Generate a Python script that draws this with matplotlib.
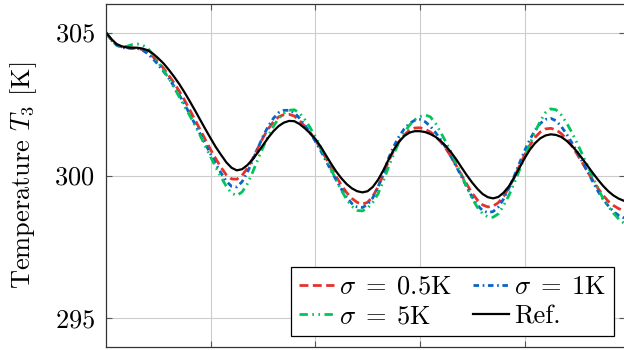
import matplotlib
matplotlib.use("Agg")
import matplotlib.pyplot as plt

plt.rcParams['font.family'] = 'serif'
plt.rcParams['font.serif'] = ['cmr10', 'DejaVu Serif']
plt.rcParams['mathtext.fontset'] = 'cm'
plt.rcParams['axes.formatter.use_mathtext'] = True

x = [0.00, 0.05, 0.10, 0.15, 0.20, 0.25, 0.30, 0.35, 0.40, 0.45,
     0.50, 0.55, 0.60, 0.65, 0.70, 0.75, 0.80, 0.85, 0.90, 0.95,
     1.00, 1.05, 1.10, 1.15, 1.20, 1.25, 1.30, 1.35, 1.40, 1.45,
     1.50, 1.55, 1.60, 1.65, 1.70, 1.75, 1.80, 1.85, 1.90, 1.95,
     2.00, 2.05, 2.10, 2.15, 2.20, 2.25, 2.30, 2.35, 2.40, 2.45,
     2.50, 2.55, 2.60, 2.65, 2.70, 2.75, 2.80, 2.85, 2.90, 2.95,
     3.00, 3.05, 3.10, 3.15, 3.20, 3.25, 3.30, 3.35, 3.40, 3.45,
     3.50, 3.55, 3.60, 3.65, 3.70, 3.75, 3.80, 3.85, 3.90, 3.95,
     4.00, 4.05, 4.10, 4.15, 4.20, 4.25, 4.30, 4.35, 4.40, 4.45,
     4.50, 4.55, 4.60, 4.65, 4.70, 4.75, 4.80, 4.85, 4.90, 4.96]

ref = [305.00, 304.78, 304.60, 304.52, 304.48, 304.47, 304.47, 304.44, 304.38, 304.26,
       304.10, 303.92, 303.70, 303.46, 303.20, 302.91, 302.60, 302.28, 301.95, 301.62,
       301.30, 300.99, 300.72, 300.46, 300.27, 300.18, 300.22, 300.36, 300.56, 300.80,
       301.06, 301.32, 301.55, 301.73, 301.85, 301.91, 301.90, 301.80, 301.65, 301.48,
       301.28, 301.02, 300.72, 300.42, 300.14, 299.90, 299.70, 299.55, 299.45, 299.41,
       299.45, 299.60, 299.85, 300.18, 300.55, 300.90, 301.18, 301.38, 301.50, 301.55,
       301.55, 301.52, 301.45, 301.35, 301.20, 301.02, 300.80, 300.55, 300.27, 300.00,
       299.75, 299.53, 299.35, 299.24, 299.20, 299.25, 299.40, 299.62, 299.92, 300.26,
       300.60, 300.90, 301.13, 301.30, 301.40, 301.44, 301.42, 301.35, 301.22, 301.05,
       300.84, 300.60, 300.35, 300.10, 299.86, 299.64, 299.45, 299.30, 299.19, 299.10]

s05 = [305.00, 304.76, 304.58, 304.50, 304.47, 304.46, 304.45, 304.40, 304.30, 304.15,
       303.96, 303.75, 303.50, 303.24, 302.95, 302.64, 302.30, 301.95, 301.60, 301.25,
       300.90, 300.58, 300.28, 300.02, 299.88, 299.87, 300.00, 300.25, 300.58, 300.95,
       301.32, 301.63, 301.88, 302.05, 302.13, 302.14, 302.08, 301.92, 301.72, 301.50,
       301.25, 300.95, 300.62, 300.28, 299.96, 299.66, 299.40, 299.20, 299.06, 299.00,
       299.06, 299.27, 299.60, 300.03, 300.50, 300.88, 301.18, 301.42, 301.58, 301.66,
       301.67, 301.62, 301.52, 301.37, 301.17, 300.93, 300.65, 300.33, 300.00, 299.68,
       299.38, 299.14, 298.97, 298.90, 298.93, 299.05, 299.27, 299.57, 299.92, 300.32,
       300.72, 301.05, 301.33, 301.52, 301.63, 301.65, 301.60, 301.47, 301.28, 301.04,
       300.76, 300.46, 300.15, 299.85, 299.56, 299.31, 299.10, 298.95, 298.84, 298.76]

s1 = [305.00, 304.74, 304.56, 304.48, 304.45, 304.45, 304.45, 304.38, 304.26, 304.08,
      303.87, 303.64, 303.40, 303.12, 302.82, 302.50, 302.15, 301.80, 301.45, 301.10,
      300.75, 300.40, 300.08, 299.80, 299.62, 299.60, 299.78, 300.10, 300.52, 300.95,
      301.36, 301.72, 302.00, 302.20, 302.28, 302.28, 302.20, 302.00, 301.76, 301.50,
      301.20, 300.88, 300.53, 300.18, 299.84, 299.52, 299.24, 299.02, 298.90, 298.88,
      298.98, 299.22, 299.60, 300.08, 300.60, 301.02, 301.36, 301.63, 301.82, 301.93,
      301.96, 301.88, 301.72, 301.50, 301.25, 300.96, 300.64, 300.30, 299.94, 299.58,
      299.24, 298.96, 298.77, 298.70, 298.74, 298.90, 299.18, 299.55, 299.97, 300.42,
      300.86, 301.25, 301.58, 301.82, 301.96, 302.00, 301.92, 301.72, 301.46, 301.16,
      300.84, 300.50, 300.15, 299.80, 299.46, 299.17, 298.94, 298.74, 298.60, 298.50]

s5 = [305.00, 304.74, 304.56, 304.50, 304.52, 304.58, 304.60, 304.56, 304.45, 304.22,
      303.95, 303.68, 303.40, 303.08, 302.75, 302.42, 302.10, 301.76, 301.40, 301.02,
      300.65, 300.28, 299.94, 299.62, 299.38, 299.30, 299.42, 299.70, 300.10, 300.55,
      300.98, 301.38, 301.72, 302.00, 302.18, 302.28, 302.30, 302.18, 301.96, 301.68,
      301.36, 301.00, 300.62, 300.22, 299.84, 299.48, 299.16, 298.92, 298.78, 298.76,
      298.86, 299.06, 299.36, 299.80, 300.30, 300.76, 301.16, 301.50, 301.76, 301.95,
      302.06, 302.12, 302.05, 301.82, 301.50, 301.16, 300.80, 300.40, 300.00, 299.58,
      299.20, 298.88, 298.66, 298.55, 298.54, 298.66, 298.95, 299.30, 299.72, 300.18,
      300.65, 301.10, 301.52, 301.90, 302.20, 302.33, 302.30, 302.12, 301.85, 301.52,
      301.15, 300.76, 300.36, 299.96, 299.56, 299.20, 298.92, 298.68, 298.48, 298.30]

labels = [r'$\sigma\;=\;0.5\mathrm{K}$', r'$\sigma\;=\;1\mathrm{K}$',
          r'$\sigma\;=\;5\mathrm{K}$', r'Ref.']
yticks = [295, 300, 305]
xgrid = [1, 2, 3, 4]

fig = plt.figure(figsize=(6.24, 3.5), dpi=100)
ax = fig.add_axes([106/624, 3/350, (625-106)/624, 343/350])

lw = 2.0
h05, = ax.plot(x, s05, color='#e5322d', lw=lw, linestyle=(0, (3.2, 1.6)), label=labels[0])
h1, = ax.plot(x, s1, color='#0a64c8', lw=lw, linestyle=(0, (2.0, 1.3, 0.6, 1.3)), label=labels[1])
h5, = ax.plot(x, s5, color='#00c45c', lw=lw, linestyle=(0, (3.0, 1.6, 0.6, 1.6, 0.6, 1.6)), label=labels[2])
hr, = ax.plot(x, ref, color='black', lw=1.6, label=labels[3])

ax.set_xlim(0, 4.96)
ax.set_ylim(294, 306)
ax.set_yticks(yticks)
ax.set_xticks(xgrid)
ax.set_xticklabels([])
ax.grid(True, color='#cccccc', lw=0.8)
ax.set_axisbelow(True)
ax.tick_params(direction='in', length=4, width=0.8, color='#555555',
               top=True, right=True, pad=8, labelsize=19)
for s in ax.spines.values():
    s.set_color('#333333')
    s.set_linewidth(0.9)

ax.set_ylabel(r'Temperature $T_3$ [K]', fontsize=19)
ax.yaxis.set_label_coords(-0.13, 0.5)

leg = ax.legend([h05, h5, h1, hr], [labels[0], labels[2], labels[1], labels[3]],
                loc='lower right', ncol=2, fancybox=False, framealpha=1,
                edgecolor='black', handlelength=1.35, handletextpad=0.2,
                columnspacing=0.8, borderpad=0.3, labelspacing=0.22,
                borderaxespad=0.4, fontsize=19)
leg.get_frame().set_linewidth(0.9)

fig.savefig('out.png', dpi=100)
